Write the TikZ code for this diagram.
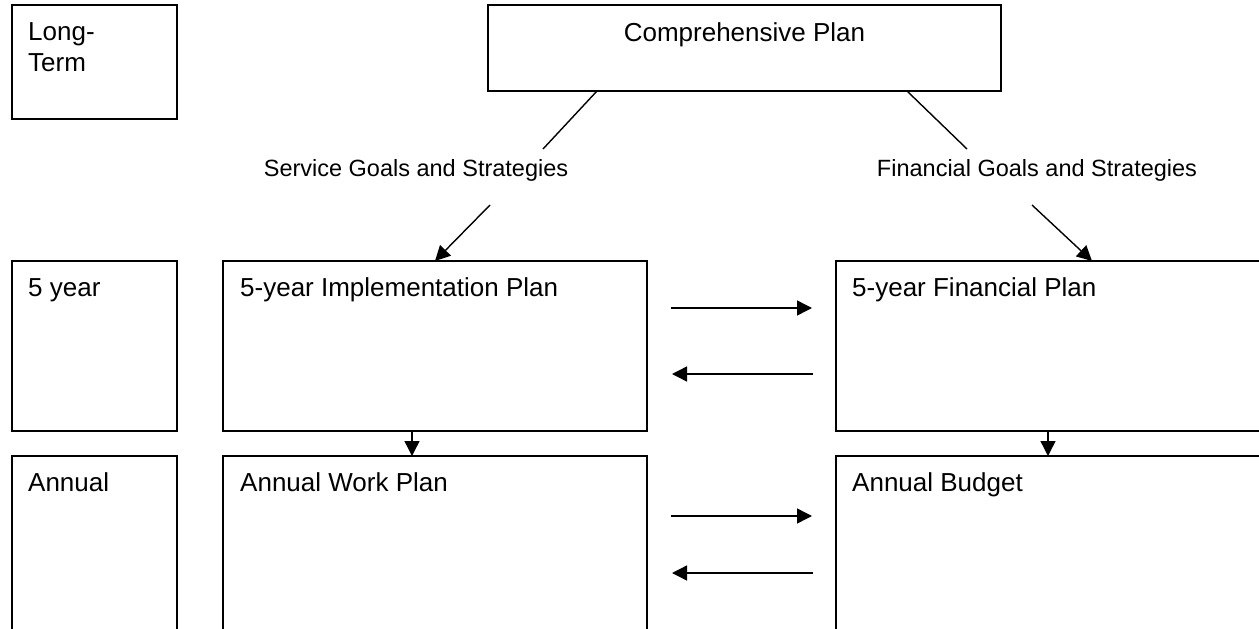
\documentclass[tikz,border=0pt]{standalone}
\usepackage{fontspec}
\setmainfont{Liberation Sans}
\usetikzlibrary{arrows.meta,calc}
\begin{document}
\begin{tikzpicture}[x=1pt,y=-1pt,
  box/.style={draw, line width=1.8pt, rectangle, inner sep=0pt, outer sep=0pt, anchor=north west},
  boxtext/.style={anchor=base west, inner sep=0pt, font=\fontsize{26}{31}\selectfont},
  lbl/.style={inner sep=0pt, font=\fontsize{23.5}{28}\selectfont},
  link/.style={line width=1.4pt},
  arr/.style={line width=1.4pt, -{Triangle[length=15pt,width=15pt]}}]
\useasboundingbox (0,0) rectangle (1259,629);
\clip (0,0) rectangle (1259,629);

% time-horizon column
\node[box, minimum width=165pt, minimum height=114pt] (lt) at (12,5) {};
\node[box, minimum width=165pt, minimum height=170pt] (fy) at (12,261) {};
\node[box, minimum width=165pt, minimum height=173.8pt] (an) at (12,456) {};

% plans
\node[box, minimum width=513pt, minimum height=86pt] (cp) at (488,5) {};
\node[box, minimum width=424pt, minimum height=170pt] (imp) at (223,261) {};
\node[box, minimum width=430pt, minimum height=170pt] (fin) at (836,261) {};
\node[box, minimum width=424pt, minimum height=173.8pt] (awp) at (223,456) {};
\node[box, minimum width=430pt, minimum height=173.8pt] (ab) at (836,456) {};

% box texts
\node[anchor=north west, inner sep=0pt, align=left, font=\fontsize{26}{31}\selectfont]
  (ltt) at ($(lt.north west)+(16,17)$) {Long-\\Term};
\node[boxtext] (fyt) at ($(fy.north west)+(16,35)$) {5 year};
\node[boxtext] (ant) at ($(an.north west)+(16,35)$) {Annual};
\node[boxtext, anchor=base] (cpt) at ($(cp.north)+(0,36)$) {Comprehensive Plan};
\node[boxtext] (impt) at ($(imp.north west)+(17,35)$) {5-year Implementation Plan};
\node[boxtext] (fint) at ($(fin.north west)+(16,35)$) {5-year Financial Plan};
\node[boxtext] (awpt) at ($(awp.north west)+(17,35)$) {Annual Work Plan};
\node[boxtext] (abt) at ($(ab.north west)+(16,35)$) {Annual Budget};

% goal labels
\node[lbl] (sg) at (416,170) {Service Goals and Strategies};
\node[lbl] (fg) at (1037,170) {Financial Goals and Strategies};

% connectors from the comprehensive plan
\coordinate (xl) at (597,0);
\coordinate (xr) at (907,0);
\coordinate (sgtop) at (543,149);
\coordinate (fgtop) at (967,149);
\draw[link] (xl |- cp.south) -- (sgtop);
\draw[link] (xr |- cp.south) -- (fgtop);

\coordinate (sgbot) at (490,205);
\coordinate (fgbot) at (1032,205);
\coordinate (xi) at (435,0);
\coordinate (xf) at (1092,0);
\draw[arr] (sgbot) -- (xi |- imp.north);
\draw[arr] (fgbot) -- (xf |- fin.north);

% vertical links between the rows
\coordinate (dl) at (412,0);
\coordinate (dr) at (1048,0);
\draw[arr] (dl |- imp.south) -- (dl |- awp.north);
\draw[arr] (dr |- fin.south) -- (dr |- ab.north);

% exchanges between the two columns
\coordinate (fa) at (671,308);
\coordinate (fb) at (812,308);
\coordinate (fc) at (813,374);
\coordinate (fd) at (672,374);
\draw[arr] (fa) -- (fb);
\draw[arr] (fc) -- (fd);
\coordinate (aa) at (671,516);
\coordinate (ab2) at (812,516);
\coordinate (ac) at (813,573);
\coordinate (ad) at (672,573);
\draw[arr] (aa) -- (ab2);
\draw[arr] (ac) -- (ad);
\end{tikzpicture}
\end{document}
